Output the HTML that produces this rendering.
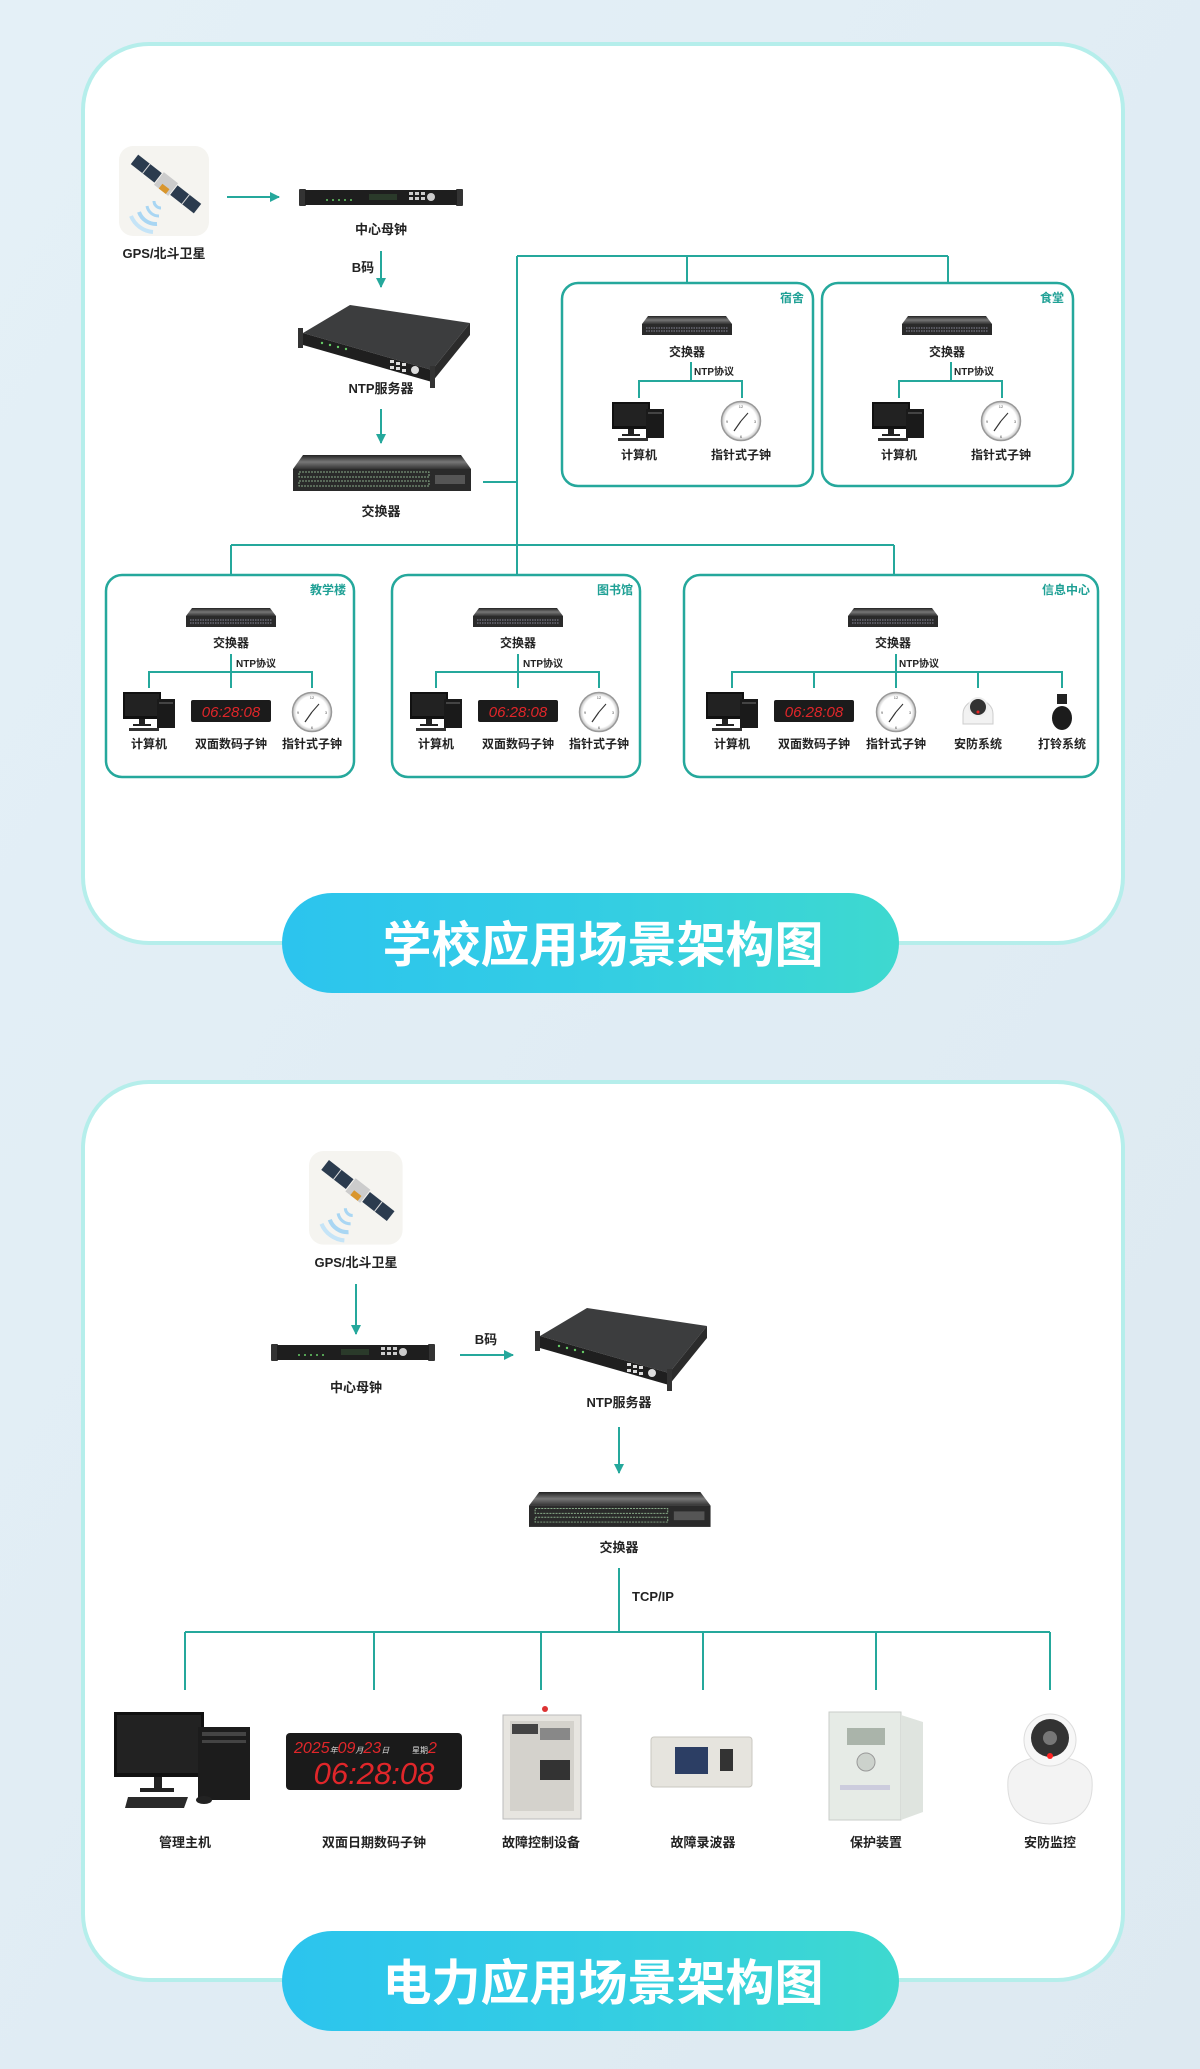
<!DOCTYPE html>
<html><head><meta charset="utf-8"><style>
html,body{margin:0;padding:0;}
body{width:1200px;height:2069px;overflow:hidden;background:#e1eef6;}
svg{display:block;}
text{font-family:"Liberation Sans","Noto Sans CJK SC",sans-serif;}
</style></head><body>
<svg width="1200" height="2069" viewBox="0 0 1200 2069" xmlns="http://www.w3.org/2000/svg">
<defs>
<linearGradient id="bg" x1="0" y1="0" x2="1" y2="1"><stop offset="0" stop-color="#e4f0f7"/><stop offset="1" stop-color="#dde9f1"/></linearGradient>
<linearGradient id="pill" x1="0" y1="0" x2="1" y2="0"><stop offset="0" stop-color="#2cc4ee"/><stop offset="0.5" stop-color="#33cde4"/><stop offset="1" stop-color="#3ed9cf"/></linearGradient>
<linearGradient id="swtop" x1="0" y1="0" x2="0" y2="1"><stop offset="0" stop-color="#222"/><stop offset="0.5" stop-color="#777"/><stop offset="1" stop-color="#333"/></linearGradient>
<radialGradient id="clk" cx="0.5" cy="0.5" r="0.5"><stop offset="0.8" stop-color="#fff"/><stop offset="1" stop-color="#bbb"/></radialGradient>
<marker id="ar" viewBox="0 0 10 10" refX="9" refY="5" markerWidth="5" markerHeight="5" orient="auto"><path d="M0,0L10,5L0,10z" fill="#25a89c"/></marker>

<!-- satellite icon 90x90 -->
<g id="sat">
<rect x="0" y="0" width="90" height="90" rx="14" fill="#f5f4f0"/>
<g transform="translate(47,38) rotate(38)">
<rect x="-40" y="-6" width="30" height="12" fill="#2b3b4e"/>
<rect x="10" y="-6" width="30" height="12" fill="#2b3b4e"/>
<line x1="-25" y1="-6" x2="-25" y2="6" stroke="#ddd"/><line x1="25" y1="-6" x2="25" y2="6" stroke="#ddd"/>
<rect x="-9" y="-8" width="18" height="16" fill="#ccc"/><rect x="-3" y="2" width="9" height="6" fill="#d9962d"/>
</g>
<path d="M20,66 A18,18 0 0 0 38,78" fill="none" stroke="#a9d6f3" stroke-width="4"/>
<path d="M28,60 A12,12 0 0 0 40,70" fill="none" stroke="#a9d6f3" stroke-width="3"/>
<path d="M35,55 A7,7 0 0 0 42,62" fill="none" stroke="#a9d6f3" stroke-width="3"/>
<path d="M12,70 A26,26 0 0 0 34,86" fill="none" stroke="#c5e4f7" stroke-width="4"/>
</g>

<!-- 1U master clock 164x16 -->
<g id="mc">
<rect x="0" y="0" width="7" height="17" rx="1" fill="#333"/><rect x="157" y="0" width="7" height="17" rx="1" fill="#333"/>
<rect x="6" y="1" width="152" height="15" fill="#1e1e1e"/>
<rect x="70" y="5" width="28" height="6" fill="#2a3a2a"/>
<g fill="#ccc"><rect x="110" y="3" width="4" height="3"/><rect x="116" y="3" width="4" height="3"/><rect x="122" y="3" width="4" height="3"/><rect x="110" y="8" width="4" height="3"/><rect x="116" y="8" width="4" height="3"/><rect x="122" y="8" width="4" height="3"/><circle cx="132" cy="8" r="4"/></g>
<g fill="#6c6"><circle cx="28" cy="11" r="1"/><circle cx="34" cy="11" r="1"/><circle cx="40" cy="11" r="1"/><circle cx="46" cy="11" r="1"/><circle cx="52" cy="11" r="1"/></g>
</g>

<!-- NTP server 3D ~172x85 -->
<g id="ntp">
<polygon points="3,33 132,70 170,23 50,5" fill="#3c3d3e"/>
<polygon points="3,33 132,70 132,82 3,45" fill="#1f1f1f"/>
<polygon points="132,70 170,23 170,35 132,82" fill="#2b2b2b"/>
<rect x="-2" y="28" width="5" height="20" fill="#333"/><rect x="130" y="66" width="5" height="22" fill="#333"/>
<g fill="#ddd"><rect x="90" y="60" width="4" height="3"/><rect x="96" y="62" width="4" height="3"/><rect x="102" y="63" width="4" height="3"/><rect x="90" y="66" width="4" height="3"/><rect x="96" y="67" width="4" height="3"/><rect x="102" y="69" width="4" height="3"/><circle cx="115" cy="70" r="4"/></g>
<g fill="#6c6"><circle cx="22" cy="43" r="1.2"/><circle cx="30" cy="45" r="1.2"/><circle cx="38" cy="47" r="1.2"/><circle cx="46" cy="49" r="1.2"/></g>
</g>

<!-- big switch 178x36 -->
<g id="sw">
<polygon points="10,0 168,0 178,14 0,14" fill="url(#swtop)"/>
<rect x="0" y="14" width="178" height="22" fill="#2a2a2a"/>
<rect x="6" y="17" width="130" height="5" fill="none" stroke="#8a8" stroke-width="1" stroke-dasharray="2 1"/>
<rect x="6" y="26" width="130" height="5" fill="none" stroke="#8a8" stroke-width="1" stroke-dasharray="2 1"/>
<rect x="142" y="20" width="30" height="9" fill="#555"/>
</g>
<!-- small switch 90x19 -->
<g id="ssw">
<polygon points="6,0 84,0 90,8 0,8" fill="url(#swtop)"/>
<rect x="0" y="8" width="90" height="11" fill="#2a2a2a"/>
<line x1="4" y1="12" x2="86" y2="12" stroke="#889" stroke-dasharray="1.5 1"/>
<line x1="4" y1="15" x2="86" y2="15" stroke="#889" stroke-dasharray="1.5 1"/>
</g>
<!-- small pc 54x40 -->
<g id="pc">
<rect x="0" y="0" width="38" height="27" fill="#111"/><rect x="2" y="2" width="34" height="22" fill="#222"/>
<rect x="16" y="27" width="6" height="6" fill="#222"/><rect x="10" y="32" width="18" height="2" fill="#222"/>
<rect x="34" y="7" width="18" height="29" fill="#1a1a1a"/><rect x="36" y="10" width="14" height="2" fill="#444"/>
<rect x="6" y="36" width="30" height="3" fill="#333"/>
</g>
<!-- analog clock r=19 -->
<g id="ac">
<circle cx="0" cy="0" r="19.5" fill="url(#clk)" stroke="#999" stroke-width="1.5"/>
<g fill="#555" font-size="4" text-anchor="middle"><text x="0" y="-13">12</text><text x="14" y="2">3</text><text x="0" y="17">6</text><text x="-14" y="2">9</text></g>
<line x1="0" y1="0" x2="-7" y2="10" stroke="#333" stroke-width="1.2"/><line x1="0" y1="0" x2="7" y2="-8" stroke="#333" stroke-width="1"/>
</g>
<!-- small digital clock 80x22 -->
<g id="dc">
<rect x="0" y="0" width="80" height="22" rx="2" fill="#1b1b1b"/>
<text x="40" y="17" text-anchor="middle" font-size="15" font-style="italic" fill="#e0262a" font-family="Liberation Mono,monospace">06:28:08</text>
</g>
</defs>

<rect width="1200" height="2069" fill="url(#bg)"/>

<!-- ===== Card 1 ===== -->
<rect x="83" y="44" width="1040" height="899" rx="66" fill="#fff" stroke="#b5eeeb" stroke-width="4"/>
<use href="#sat" x="119" y="146"/>
<text x="164" y="258" text-anchor="middle" font-size="13" font-weight="bold" fill="#222">GPS/北斗卫星</text>
<line x1="227" y1="197" x2="279" y2="197" stroke="#25a89c" stroke-width="2" marker-end="url(#ar)"/>
<use href="#mc" x="299" y="189"/>
<text x="381" y="234" text-anchor="middle" font-size="13" font-weight="bold" fill="#222">中心母钟</text>
<text x="363" y="272" text-anchor="middle" font-size="13" font-weight="bold" fill="#222">B码</text>
<line x1="381" y1="251" x2="381" y2="287" stroke="#25a89c" stroke-width="2" marker-end="url(#ar)"/>
<use href="#ntp" x="300" y="300"/>
<text x="381" y="393" text-anchor="middle" font-size="13" font-weight="bold" fill="#222">NTP服务器</text>
<line x1="381" y1="409" x2="381" y2="443" stroke="#25a89c" stroke-width="2" marker-end="url(#ar)"/>
<use href="#sw" x="293" y="455"/>
<text x="381" y="516" text-anchor="middle" font-size="13" font-weight="bold" fill="#222">交换器</text>

<g stroke="#25a89c" stroke-width="2" fill="none">
<line x1="483" y1="482" x2="517" y2="482"/>
<line x1="517" y1="256" x2="517" y2="575"/>
<line x1="517" y1="256" x2="948" y2="256"/>
<line x1="687" y1="256" x2="687" y2="283"/>
<line x1="948" y1="256" x2="948" y2="283"/>
<line x1="231" y1="545" x2="894" y2="545"/>
<line x1="231" y1="545" x2="231" y2="575"/>
<line x1="894" y1="545" x2="894" y2="575"/>
<rect x="562" y="283" width="251" height="203" rx="16" stroke-width="2.5"/>
<rect x="822" y="283" width="251" height="203" rx="16" stroke-width="2.5"/>
<rect x="106" y="575" width="248" height="202" rx="16" stroke-width="2.5"/>
<rect x="392" y="575" width="248" height="202" rx="16" stroke-width="2.5"/>
<rect x="684" y="575" width="414" height="202" rx="16" stroke-width="2.5"/>
</g>

<!-- 宿舍 -->
<g>
<text x="804" y="302" text-anchor="end" font-size="12" font-weight="bold" fill="#1fa095">宿舍</text>
<use href="#ssw" x="642" y="316"/>
<text x="687" y="356" text-anchor="middle" font-size="12" font-weight="bold" fill="#222">交换器</text>
<text x="694" y="375" font-size="10" font-weight="bold" fill="#222">NTP协议</text>
<g stroke="#25a89c" stroke-width="2" fill="none"><line x1="691" y1="362" x2="691" y2="381"/><polyline points="639,398 639,381 742,381 742,398"/></g>
<use href="#pc" x="612" y="402"/>
<use href="#ac" x="741" y="421"/>
<text x="639" y="459" text-anchor="middle" font-size="12" font-weight="bold" fill="#222">计算机</text>
<text x="741" y="459" text-anchor="middle" font-size="12" font-weight="bold" fill="#222">指针式子钟</text>
</g>
<!-- 食堂 -->
<g transform="translate(260,0)">
<text x="804" y="302" text-anchor="end" font-size="12" font-weight="bold" fill="#1fa095">食堂</text>
<use href="#ssw" x="642" y="316"/>
<text x="687" y="356" text-anchor="middle" font-size="12" font-weight="bold" fill="#222">交换器</text>
<text x="694" y="375" font-size="10" font-weight="bold" fill="#222">NTP协议</text>
<g stroke="#25a89c" stroke-width="2" fill="none"><line x1="691" y1="362" x2="691" y2="381"/><polyline points="639,398 639,381 742,381 742,398"/></g>
<use href="#pc" x="612" y="402"/>
<use href="#ac" x="741" y="421"/>
<text x="639" y="459" text-anchor="middle" font-size="12" font-weight="bold" fill="#222">计算机</text>
<text x="741" y="459" text-anchor="middle" font-size="12" font-weight="bold" fill="#222">指针式子钟</text>
</g>

<!-- 教学楼 -->
<g>
<text x="346" y="594" text-anchor="end" font-size="12" font-weight="bold" fill="#1fa095">教学楼</text>
<use href="#ssw" x="186" y="608"/>
<text x="231" y="647" text-anchor="middle" font-size="12" font-weight="bold" fill="#222">交换器</text>
<text x="236" y="667" font-size="10" font-weight="bold" fill="#222">NTP协议</text>
<g stroke="#25a89c" stroke-width="2" fill="none"><line x1="231" y1="654" x2="231" y2="688"/><polyline points="149,688 149,672 312,672 312,688"/></g>
<use href="#pc" x="123" y="692"/>
<use href="#dc" x="191" y="700"/>
<use href="#ac" x="312" y="712"/>
<text x="149" y="748" text-anchor="middle" font-size="12" font-weight="bold" fill="#222">计算机</text>
<text x="231" y="748" text-anchor="middle" font-size="12" font-weight="bold" fill="#222">双面数码子钟</text>
<text x="312" y="748" text-anchor="middle" font-size="12" font-weight="bold" fill="#222">指针式子钟</text>
</g>
<!-- 图书馆 -->
<g transform="translate(287,0)">
<text x="346" y="594" text-anchor="end" font-size="12" font-weight="bold" fill="#1fa095">图书馆</text>
<use href="#ssw" x="186" y="608"/>
<text x="231" y="647" text-anchor="middle" font-size="12" font-weight="bold" fill="#222">交换器</text>
<text x="236" y="667" font-size="10" font-weight="bold" fill="#222">NTP协议</text>
<g stroke="#25a89c" stroke-width="2" fill="none"><line x1="231" y1="654" x2="231" y2="688"/><polyline points="149,688 149,672 312,672 312,688"/></g>
<use href="#pc" x="123" y="692"/>
<use href="#dc" x="191" y="700"/>
<use href="#ac" x="312" y="712"/>
<text x="149" y="748" text-anchor="middle" font-size="12" font-weight="bold" fill="#222">计算机</text>
<text x="231" y="748" text-anchor="middle" font-size="12" font-weight="bold" fill="#222">双面数码子钟</text>
<text x="312" y="748" text-anchor="middle" font-size="12" font-weight="bold" fill="#222">指针式子钟</text>
</g>
<!-- 信息中心 -->
<g>
<text x="1090" y="594" text-anchor="end" font-size="12" font-weight="bold" fill="#1fa095">信息中心</text>
<use href="#ssw" x="848" y="608"/>
<text x="893" y="647" text-anchor="middle" font-size="12" font-weight="bold" fill="#222">交换器</text>
<text x="899" y="667" font-size="10" font-weight="bold" fill="#222">NTP协议</text>
<g stroke="#25a89c" stroke-width="2" fill="none"><line x1="896" y1="654" x2="896" y2="688"/><polyline points="732,688 732,672 1062,672 1062,688"/><line x1="814" y1="672" x2="814" y2="688"/><line x1="978" y1="672" x2="978" y2="688"/></g>
<use href="#pc" x="706" y="692"/>
<use href="#dc" x="774" y="700"/>
<use href="#ac" x="896" y="712"/>
<path d="M963,714 A15,14 0 0 1 993,714 L993,724 L963,724 Z" fill="#f2f2f2" stroke="#ccc"/>
<circle cx="978" cy="707" r="9" fill="#333" stroke="#eee" stroke-width="2"/><circle cx="978" cy="712" r="1.5" fill="#e22"/>
<rect x="1057" y="694" width="10" height="10" fill="#222"/><ellipse cx="1062" cy="718" rx="10" ry="12" fill="#1c1c1c"/>
<text x="732" y="748" text-anchor="middle" font-size="12" font-weight="bold" fill="#222">计算机</text>
<text x="814" y="748" text-anchor="middle" font-size="12" font-weight="bold" fill="#222">双面数码子钟</text>
<text x="896" y="748" text-anchor="middle" font-size="12" font-weight="bold" fill="#222">指针式子钟</text>
<text x="978" y="748" text-anchor="middle" font-size="12" font-weight="bold" fill="#222">安防系统</text>
<text x="1062" y="748" text-anchor="middle" font-size="12" font-weight="bold" fill="#222">打铃系统</text>
</g>

<rect x="282" y="893" width="617" height="100" rx="50" fill="url(#pill)"/>
<text x="603" y="962" text-anchor="middle" font-size="49" font-weight="bold" fill="#fff">学校应用场景架构图</text>

<!-- ===== Card 2 ===== -->
<rect x="83" y="1082" width="1040" height="898" rx="66" fill="#fff" stroke="#b5eeeb" stroke-width="4"/>
<g transform="translate(309,1151) scale(1.04)"><use href="#sat"/></g>
<text x="356" y="1267" text-anchor="middle" font-size="13" font-weight="bold" fill="#222">GPS/北斗卫星</text>
<line x1="356" y1="1284" x2="356" y2="1334" stroke="#25a89c" stroke-width="2" marker-end="url(#ar)"/>
<use href="#mc" x="271" y="1344"/>
<text x="356" y="1392" text-anchor="middle" font-size="13" font-weight="bold" fill="#222">中心母钟</text>
<text x="486" y="1344" text-anchor="middle" font-size="13" font-weight="bold" fill="#222">B码</text>
<line x1="460" y1="1355" x2="513" y2="1355" stroke="#25a89c" stroke-width="2" marker-end="url(#ar)"/>
<use href="#ntp" x="537" y="1303"/>
<text x="619" y="1407" text-anchor="middle" font-size="13" font-weight="bold" fill="#222">NTP服务器</text>
<line x1="619" y1="1427" x2="619" y2="1473" stroke="#25a89c" stroke-width="2" marker-end="url(#ar)"/>
<g transform="translate(529,1492) scale(1.02,0.97)"><use href="#sw"/></g>
<text x="619" y="1552" text-anchor="middle" font-size="13" font-weight="bold" fill="#222">交换器</text>
<text x="632" y="1601" font-size="13" font-weight="bold" fill="#222">TCP/IP</text>
<g stroke="#25a89c" stroke-width="2" fill="none">
<line x1="619" y1="1568" x2="619" y2="1632"/>
<line x1="185" y1="1632" x2="1050" y2="1632"/>
<line x1="185" y1="1632" x2="185" y2="1690"/>
<line x1="374" y1="1632" x2="374" y2="1690"/>
<line x1="541" y1="1632" x2="541" y2="1690"/>
<line x1="703" y1="1632" x2="703" y2="1690"/>
<line x1="876" y1="1632" x2="876" y2="1690"/>
<line x1="1050" y1="1632" x2="1050" y2="1690"/>
</g>
<!-- devices -->
<g>
<rect x="114" y="1712" width="90" height="65" fill="#111"/><rect x="117" y="1715" width="84" height="58" fill="#222"/>
<rect x="154" y="1777" width="8" height="12" fill="#222"/><rect x="140" y="1788" width="34" height="4" fill="#222"/>
<rect x="198" y="1727" width="52" height="73" fill="#1c1c1c"/><rect x="202" y="1732" width="44" height="4" fill="#444"/><rect x="202" y="1740" width="44" height="3" fill="#444"/>
<polygon points="128,1797 188,1797 184,1808 125,1808" fill="#2a2a2a"/><ellipse cx="204" cy="1800" rx="8" ry="4" fill="#222"/>
</g>
<g>
<rect x="286" y="1733" width="176" height="57" rx="4" fill="#1a1a1a"/>
<text x="294" y="1753" font-size="16" font-style="italic" fill="#e0262a" font-family="Liberation Mono,monospace">2025<tspan font-size="8" fill="#ddd">年</tspan>09<tspan font-size="8" fill="#ddd">月</tspan>23<tspan font-size="8" fill="#ddd">日</tspan></text>
<text x="412" y="1753" font-size="8" fill="#ddd">星期<tspan font-size="16" font-style="italic" fill="#e0262a">2</tspan></text>
<text x="374" y="1784" text-anchor="middle" font-size="31" font-style="italic" fill="#e0262a" font-family="Liberation Mono,monospace">06:28:08</text>
</g>
<g>
<rect x="503" y="1715" width="78" height="104" fill="#e7e5e0" stroke="#bbb"/>
<rect x="510" y="1721" width="64" height="90" fill="#d4d2cc"/>
<rect x="512" y="1724" width="26" height="10" fill="#444"/>
<rect x="540" y="1728" width="30" height="12" fill="#888"/><rect x="540" y="1760" width="30" height="20" fill="#333"/>
<circle cx="545" cy="1709" r="3" fill="#d33"/>
</g>
<g>
<rect x="651" y="1737" width="101" height="50" rx="3" fill="#e6e4de" stroke="#c9c7c0"/>
<rect x="675" y="1747" width="33" height="27" fill="#2c3e64"/>
<rect x="720" y="1749" width="13" height="22" fill="#333"/>
</g>
<g>
<rect x="829" y="1712" width="72" height="108" fill="#e6ebe6" stroke="#c9cec9"/>
<polygon points="901,1715 923,1722 923,1812 901,1820" fill="#dfe4df"/>
<rect x="847" y="1728" width="38" height="17" fill="#aab4aa"/>
<circle cx="866" cy="1762" r="9" fill="#ccd2cc" stroke="#999"/>
<rect x="840" y="1785" width="50" height="5" fill="#ccd"/>
</g>
<g>
<path d="M1008,1780 Q1005,1822 1050,1824 Q1095,1822 1092,1780 Q1090,1758 1050,1756 Q1010,1758 1008,1780 Z" fill="#f3f3f3" stroke="#ddd"/>
<circle cx="1050" cy="1740" r="26" fill="#f7f7f7" stroke="#ddd"/>
<circle cx="1050" cy="1738" r="19" fill="#333"/><circle cx="1050" cy="1738" r="7" fill="#777"/>
<circle cx="1050" cy="1756" r="3" fill="#f22"/>
</g>
<g font-size="13" font-weight="bold" fill="#222" text-anchor="middle">
<text x="185" y="1847">管理主机</text>
<text x="374" y="1847">双面日期数码子钟</text>
<text x="541" y="1847">故障控制设备</text>
<text x="703" y="1847">故障录波器</text>
<text x="876" y="1847">保护装置</text>
<text x="1050" y="1847">安防监控</text>
</g>

<rect x="282" y="1931" width="617" height="100" rx="50" fill="url(#pill)"/>
<text x="603" y="2000" text-anchor="middle" font-size="49" font-weight="bold" fill="#fff">电力应用场景架构图</text>
</svg>
</body></html>
